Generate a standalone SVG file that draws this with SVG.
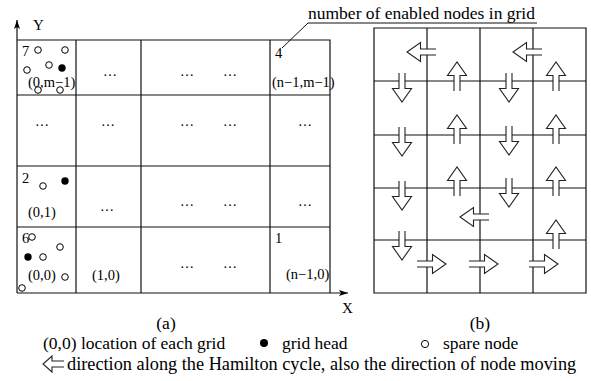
<svg xmlns="http://www.w3.org/2000/svg" xmlns:xlink="http://www.w3.org/1999/xlink" width="591" height="381" viewBox="0 0 591 381">
<style>
text{font-family:"Liberation Serif","Times New Roman",serif;fill:#000}
.g{stroke:#111;stroke-width:1.2;fill:none}
.lb{font-size:14.5px}
.dt{font-size:14px;text-anchor:middle}
.big{font-size:17.5px}
.o{fill:#fff;stroke:#000;stroke-width:1}
.f{fill:#000}
.ar{fill:#fff;stroke:#222;stroke-width:1.1;stroke-linejoin:miter}
</style>
<defs>
<path id="arL" d="M29,-3 L13.5,-3 L13.5,-9.5 L0,0 L13.5,9.5 L13.5,3 L29,3"/>
<marker id="ah" markerWidth="10" markerHeight="6" refX="9" refY="3" orient="auto" markerUnits="userSpaceOnUse">
<path d="M0,0 L9,3 L0,6 L2,3 Z" fill="#000"/>
</marker>
</defs>

<!-- left grid (a) -->
<g id="gridA">
<path class="g" d="M17,40 H330 V293 M76,40 V293 M141,40 V293 M270,40 V293 M17,95 H330 M17,166 H330 M17,227 H330"/>
<line class="g" x1="17" y1="293" x2="17" y2="20" marker-end="url(#ah)"/>
<line class="g" x1="17" y1="293" x2="348" y2="293" marker-end="url(#ah)"/>
<text class="lb" x="33" y="30" style="font-size:15px">Y</text>
<text class="lb" x="342" y="313" style="font-size:15px">X</text>
</g>

<g id="cell-0-m1">
<text class="lb" x="22" y="56">7</text>
<circle class="o" cx="38" cy="50" r="3.3"/><circle class="o" cx="65" cy="50" r="3.3"/>
<circle class="o" cx="27" cy="70" r="3.3"/><circle class="o" cx="49" cy="65" r="3.3"/>
<circle class="f" cx="62" cy="68" r="3.7"/>
<circle class="o" cx="38" cy="90" r="3.3"/><circle class="o" cx="60" cy="90" r="3.3"/>
<text class="lb" x="28" y="87">(0,m−1)</text>
</g>
<g id="cell-n1-m1">
<text class="lb" x="275" y="58">4</text>
<text class="lb" x="272" y="87">(n−1,m−1)</text>
</g>
<g id="cell-0-1">
<text class="lb" x="22" y="183">2</text>
<circle class="o" cx="43" cy="186" r="3.3"/>
<circle class="f" cx="65" cy="181" r="3.7"/>
<text class="lb" x="28" y="217">(0,1)</text>
</g>
<g id="cell-0-0">
<text class="lb" x="22" y="243">6</text>
<circle class="o" cx="32" cy="237" r="3.3"/>
<circle class="o" cx="60" cy="247" r="3.3"/>
<circle class="f" cx="28" cy="257" r="3.7"/>
<circle class="o" cx="43" cy="257" r="3.3"/>
<circle class="o" cx="65" cy="277" r="3.3"/>
<circle class="o" cx="22" cy="288" r="3.3"/>
<text class="lb" x="28" y="280">(0,0)</text>
</g>
<g id="cell-1-0">
<text class="lb" x="92" y="280">(1,0)</text>
</g>
<g id="cell-n1-0">
<text class="lb" x="275" y="243">1</text>
<text class="lb" x="286" y="279">(n−1,0)</text>
</g>
<g id="ellipses">
<text class="dt" x="110" y="76">…</text>
<text class="dt" x="187" y="76">…</text>
<text class="dt" x="230" y="76">…</text>
<text class="dt" x="42" y="126">…</text>
<text class="dt" x="108" y="126">…</text>
<text class="dt" x="187" y="126">…</text>
<text class="dt" x="230" y="126">…</text>
<text class="dt" x="305" y="126">…</text>
<text class="dt" x="107" y="211">…</text>
<text class="dt" x="187" y="206">…</text>
<text class="dt" x="230" y="206">…</text>
<text class="dt" x="305" y="206">…</text>
<text class="dt" x="187" y="268">…</text>
<text class="dt" x="230" y="268">…</text>
</g>

<g id="callout">
<path class="g" d="M282,48 L308,23 H537" style="stroke-width:1"/>
<text class="big" x="308" y="19">number of enabled nodes in grid</text>
</g>

<!-- right grid (b) -->
<g id="gridB">
<path class="g" d="M374,28 H586 V293 H374 Z M427,28 V293 M480,28 V293 M533,28 V293 M374,81 H586 M374,135 H586 M374,188 H586 M374,240 H586"/>
</g>

<g id="connectors">
<use xlink:href="#arL" class="ar" transform="translate(407,52)"/>
<use xlink:href="#arL" class="ar" transform="translate(513,52)"/>
<use xlink:href="#arL" class="ar" transform="translate(460,217)"/>
<use xlink:href="#arL" class="ar" transform="translate(402,102) rotate(-90)"/>
<use xlink:href="#arL" class="ar" transform="translate(402,156) rotate(-90)"/>
<use xlink:href="#arL" class="ar" transform="translate(402,210) rotate(-90)"/>
<use xlink:href="#arL" class="ar" transform="translate(402,260) rotate(-90)"/>
<use xlink:href="#arL" class="ar" transform="translate(509,102) rotate(-90)"/>
<use xlink:href="#arL" class="ar" transform="translate(509,155) rotate(-90)"/>
<use xlink:href="#arL" class="ar" transform="translate(509,207) rotate(-90)"/>
<use xlink:href="#arL" class="ar" transform="translate(457,62) rotate(90)"/>
<use xlink:href="#arL" class="ar" transform="translate(457,115) rotate(90)"/>
<use xlink:href="#arL" class="ar" transform="translate(457,167) rotate(90)"/>
<use xlink:href="#arL" class="ar" transform="translate(556,62) rotate(90)"/>
<use xlink:href="#arL" class="ar" transform="translate(556,115) rotate(90)"/>
<use xlink:href="#arL" class="ar" transform="translate(556,167) rotate(90)"/>
<use xlink:href="#arL" class="ar" transform="translate(556,220) rotate(90)"/>
<use xlink:href="#arL" class="ar" transform="translate(446,264) rotate(180)"/>
<use xlink:href="#arL" class="ar" transform="translate(498,264) rotate(180)"/>
<use xlink:href="#arL" class="ar" transform="translate(558,264) rotate(180)"/>
</g>

<g id="captions">
<text class="big" x="166" y="329" text-anchor="middle">(a)</text>
<text class="big" x="480" y="329" text-anchor="middle">(b)</text>
</g>

<g id="legend">
<text class="big" x="43" y="349">(0,0) location of each grid</text>
<circle class="f" cx="264" cy="343" r="4"/>
<text class="big" x="282" y="349">grid head</text>
<circle class="o" cx="425" cy="344" r="3.6"/>
<text class="big" x="443" y="349">spare node</text>
<path class="ar" d="M64,361 L52,361 L52,356 L43,364 L52,372 L52,367 L64,367"/>
<text class="big" x="67" y="370" style="font-size:18.3px">direction along the Hamilton cycle, also the direction of node moving</text>
</g>
</svg>
